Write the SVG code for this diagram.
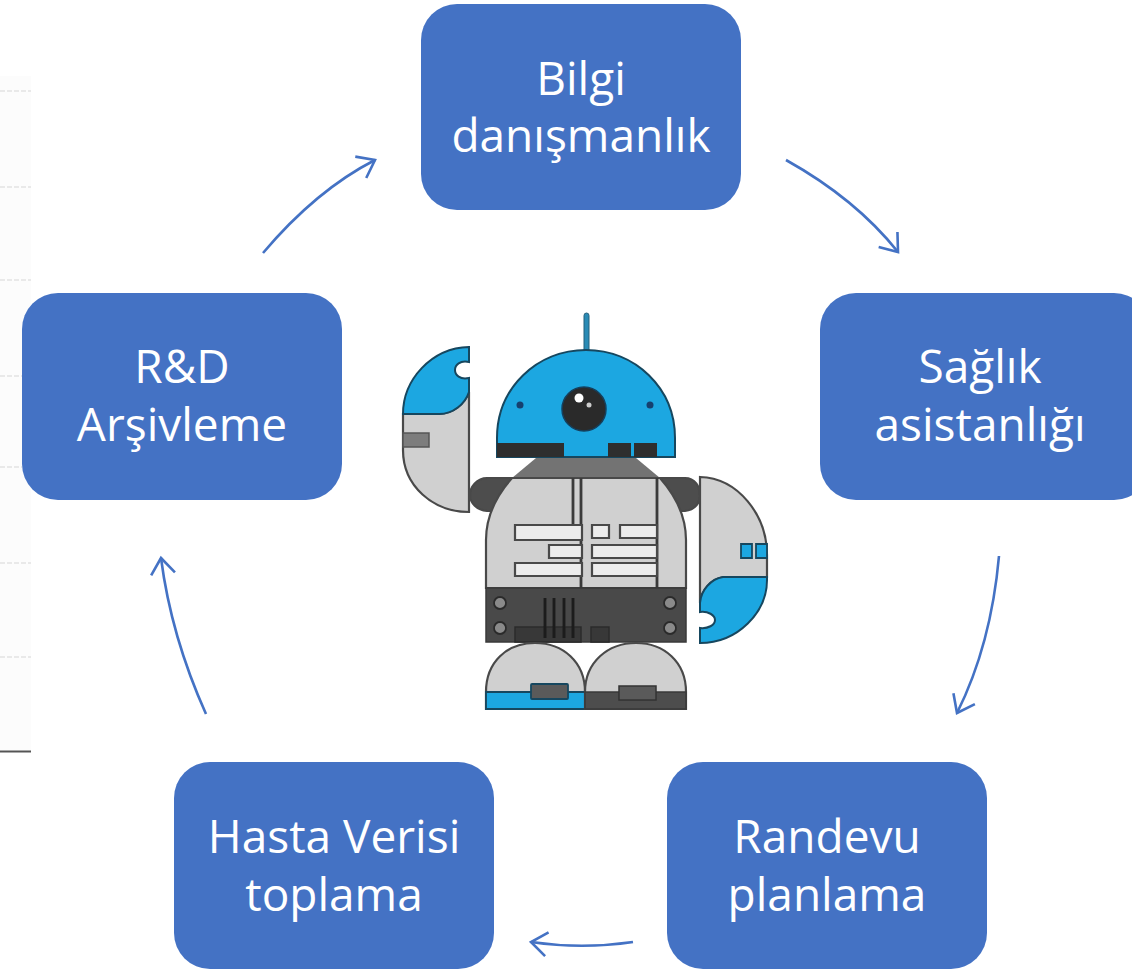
<svg xmlns="http://www.w3.org/2000/svg" width="1132" height="969" viewBox="0 0 1132 969">
<style>
.box{fill:#4472c4}
.lbl{font-family:"Open Sans","Noto Sans","Liberation Sans",sans-serif;font-size:46px;fill:#fff;text-anchor:middle}
.conn{fill:none;stroke:#4472c4;stroke-width:2.6;marker-end:url(#arrow)}
.grid{stroke:#e2e2e2;stroke-width:1.5;stroke-dasharray:5 2}
.ol{stroke:#4a4a4a;stroke-width:2.2}
.g{fill:#d0d0d0}.d{fill:#4d4d4d}.b{fill:#1ea7e1}.w{fill:#ececec}.k{fill:#2e2e2e}
.v{stroke:#3a3a3a;stroke-width:2.8;fill:none}
</style>
<defs>
<marker id="arrow" markerUnits="userSpaceOnUse" markerWidth="30" markerHeight="30" refX="21" refY="15" orient="auto">
<path d="M5 3L21 15L5 27" fill="none" stroke="#4472c4" stroke-width="2.6"/>
</marker>
<filter id="soft" x="-5%" y="-5%" width="110%" height="110%"><feGaussianBlur stdDeviation="0.55"/></filter>
</defs>
<rect width="1132" height="969" fill="#fff"/>
<g id="backdrop">
<rect x="0" y="76" width="31" height="675" fill="#fcfcfc"/>
<path class="grid" d="M0 91H31M0 187H31M0 280H31M0 376H22M0 467H22M0 563H31M0 657H31"/>
<path d="M0 751.500H31" stroke="#555" stroke-width="2"/>
</g>
<g id="connectors">
<path class="conn" d="M263 253C296 214 332 182 375 160"/>
<path class="conn" d="M786 160C829 184 867 213 898 252"/>
<path class="conn" d="M999 556C994 612 981 665 957 713"/>
<path class="conn" d="M633 942C599 947 565 947 531 942"/>
<path class="conn" d="M206 714C184 665 168 612 161 558"/>
</g>
<g id="robot" filter="url(#soft)">
<rect x="584" y="313" width="5" height="43" rx="2.500" fill="#2a8bb5" stroke="#27617d" stroke-width="1"/>
<path class="b" d="M497 457V438C497 388 537 350 586 350C635 350 675 388 675 438V457Z" stroke="#17475f" stroke-width="2"/>
<path class="k" d="M497 443H564V457H497ZM608 443H631V457H608ZM634 443H657V457H634Z"/>
<circle cx="584" cy="409" r="22" fill="#2b2b2b" stroke="#123f5c" stroke-width="1.500"/>
<circle cx="579" cy="398" r="4.500" fill="#fff"/>
<circle cx="589" cy="405" r="2.500" fill="#ccc"/>
<circle cx="520" cy="405" r="3.500" fill="#123f6e"/>
<circle cx="650" cy="405" r="3.500" fill="#123f6e"/>
<path class="g ol" d="M469 392V512C433 512 403 486 403 450V414H439C453 414 465 404 469 392Z"/>
<path class="b" stroke="#17475f" stroke-width="2" d="M469 347C431 348 403 380 403 414H439C453 414 465 404 469 392V378C460 380 455 375 455 370C455 365 460 360 469 362Z"/>
<rect x="403" y="433" width="26" height="14" fill="#7d7d7d" stroke="#555" stroke-width="1.500"/>
<path class="d ol" d="M487 478H685C695 478 700 487 700 495C700 503 695 510 685 511H487C477 510 470 503 470 495C470 487 477 478 487 478Z"/>
<path d="M536 458H636L660 478H512Z" fill="#737373"/>
<path class="g ol" d="M486 588V540C486 515 497 495 512 478H660C675 495 686 515 686 540V588Z"/>
<path class="v" d="M573 478V525M581 478V588M657 478V588"/>
<path class="w ol" d="M515 525H582V540H515ZM549 545H582V558H549ZM515 563H582V576H515ZM592 525H609V538H592ZM620 525H657V538H620ZM592 545H657V558H592ZM592 563H657V576H592Z"/>
<rect x="486" y="588" width="200" height="54" fill="#484848" stroke="#3a3a3a" stroke-width="1.500"/>
<g fill="#8a8a8a" stroke="#2b2b2b" stroke-width="1.800">
<circle cx="500" cy="603" r="6"/><circle cx="500" cy="628" r="6"/><circle cx="670" cy="603" r="6"/><circle cx="670" cy="628" r="6"/>
</g>
<path d="M515 627H581V642H515ZM591 627H609V642H591Z" fill="#383838" stroke="#2b2b2b" stroke-width="1.500"/>
<path d="M545 598V638M554 598V638M564 598V638M573 598V638" stroke="#1d1d1d" stroke-width="2.800"/>
<path class="g ol" d="M486 709V692C486 662 507 643 535 643C563 643 585 662 585 692V709Z"/>
<path class="b" stroke="#17475f" stroke-width="1.800" d="M486 692H585V709H486Z"/>
<rect x="531" y="684" width="37" height="15" rx="1" fill="#5a5a5a" stroke="#17475f" stroke-width="1.800"/>
<path class="g ol" d="M585 709V692C585 662 608 643 636 643C664 643 686 662 686 692V709Z"/>
<path class="d" stroke="#3a3a3a" stroke-width="1.500" d="M585 692H686V709H585Z"/>
<rect x="619" y="686" width="37" height="14" fill="#5a5a5a" stroke="#333" stroke-width="1.500"/>
<path class="g ol" d="M700 477C738 478 767 515 767 555V577H723C711 579 701 590 700 603Z"/>
<path class="b" stroke="#17475f" stroke-width="2" d="M767 577H723C711 579 701 590 700 603V612C708 611 715 615 715 620C715 625 708 629 700 628V643C738 643 767 612 767 580Z"/>
<path class="b" stroke="#17475f" stroke-width="1.800" d="M741 544H752V558H741ZM756 544H767V558H756Z"/>
</g>
<g id="node-bilgi">
<rect class="box" x="421" y="4" width="320" height="206" rx="36"/>
<text class="lbl" x="581" y="95">Bilgi</text>
<text class="lbl" x="581" y="152">danışmanlık</text>
</g>
<g id="node-saglik">
<rect class="box" x="820" y="293" width="330" height="207" rx="36"/>
<text class="lbl" x="980" y="383">Sağlık</text>
<text class="lbl" x="980" y="441">asistanlığı</text>
</g>
<g id="node-randevu">
<rect class="box" x="667" y="762" width="320" height="207" rx="36"/>
<text class="lbl" x="827" y="853">Randevu</text>
<text class="lbl" x="827" y="911">planlama</text>
</g>
<g id="node-hasta">
<rect class="box" x="174" y="762" width="320" height="207" rx="36"/>
<text class="lbl" x="334" y="853">Hasta Verisi</text>
<text class="lbl" x="334" y="911">toplama</text>
</g>
<g id="node-rd">
<rect class="box" x="22" y="293" width="320" height="207" rx="36"/>
<text class="lbl" x="182" y="383">R&amp;D</text>
<text class="lbl" x="182" y="441">Arşivleme</text>
</g>
</svg>
